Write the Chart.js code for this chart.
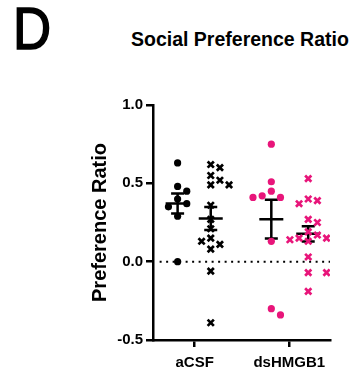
<!DOCTYPE html>
<html>
<head>
<meta charset="utf-8">
<script src="https://cdn.jsdelivr.net/npm/chart.js@4.4.0/dist/chart.umd.min.js"></script>
<style>
  body { margin: 0; background: #fff; }
  #wrap { position: relative; width: 359px; height: 376px; }
  #painel { position: absolute; left: 13px; top: -6px; font: 60px "Liberation Sans", Arial, sans-serif; transform: scaleX(0.88); transform-origin: left top; color: #000; -webkit-text-stroke: 1.6px #000; }
  #titulo { position: absolute; left: 131px; top: 28px; font: bold 19.5px "Liberation Sans", Arial, sans-serif; color: #000; white-space: nowrap; }
  canvas { position: absolute; left: 0; top: 0; }
</style>
</head>
<body>
<div id="wrap">
  <div id="painel">D</div>
  <div id="titulo">Social Preference Ratio</div>
  <canvas id="grafico" width="359" height="376"></canvas>
</div>
<script>
// categorias e valores
const categorias = ['aCSF', 'dsHMGB1'];
const ticksY = [-0.5, 0.0, 0.5, 1.0];

const aCSF_pontos = [0.63, 0.48, 0.45, 0.40, 0.37, 0.35, 0.29, 0.00];
const aCSF_cruzes = [0.62, 0.60, 0.55, 0.52, 0.49, 0.49, 0.36, 0.27, 0.21, 0.15, 0.11, 0.13, 0.08, -0.06, -0.39];
const ds_pontos = [0.75, 0.51, 0.45, 0.41, 0.42, 0.41, 0.13, -0.30, -0.34];
const ds_cruzes = [0.53, 0.40, 0.39, 0.37, 0.27, 0.25, 0.19, 0.17, 0.15, 0.15, 0.14, 0.13, 0.03, -0.07, -0.07, -0.19];

const preto = '#000000';
const rosa = '#e8157a';

// Distribui os pontos lado a lado quando se sobrepõem (tipo "swarm")
function espalhar(valores, centro) {
    const pxX = 93, pxY = 157, diam = 9, passo = 9 / pxX;
    const colocados = [];
    valores.forEach(v => {
        for (let k = 0; k < 20; k++) {
            const desl = (k === 0) ? 0 : Math.ceil(k / 2) * (k % 2 ? 1 : -1) * passo;
            const x = centro + desl;
            const colide = colocados.some(p => Math.hypot((p.x - x) * pxX, (p.y - v) * pxY) < diam);
            if (!colide) { colocados.push({ x: x, y: v }); break; }
        }
    });
    return colocados;
}

function media(arr) { return arr.reduce((a, b) => a + b, 0) / arr.length; }
function epm(arr) {
    const m = media(arr);
    const dp = Math.sqrt(arr.reduce((a, b) => a + (b - m) * (b - m), 0) / (arr.length - 1));
    return dp / Math.sqrt(arr.length);
}

const grupos = [
    { valores: aCSF_pontos, centro: 0.82, cor: preto, estilo: 'circle' },
    { valores: aCSF_cruzes, centro: 1.17, cor: preto, estilo: 'crossRot' },
    { valores: ds_pontos, centro: 1.81, cor: rosa, estilo: 'circle' },
    { valores: ds_cruzes, centro: 2.20, cor: rosa, estilo: 'crossRot' }
];

// Plugin para desenhar média ± EPM atrás dos pontos
const barrasErro = {
    id: 'barrasErro',
    beforeDatasetsDraw(chart) {
        const { ctx, scales: { x, y } } = chart;
        ctx.save();
        ctx.strokeStyle = preto;
        ctx.lineWidth = 2.5;
        grupos.forEach(g => {
            const m = media(g.valores);
            const e = epm(g.valores);
            const cx = x.getPixelForValue(g.centro);
            const ym = y.getPixelForValue(m);
            const ya = y.getPixelForValue(m + e);
            const yb = y.getPixelForValue(m - e);
            ctx.beginPath();
            ctx.moveTo(cx - 12, ym); ctx.lineTo(cx + 12, ym);
            ctx.moveTo(cx, ya); ctx.lineTo(cx, yb);
            ctx.moveTo(cx - 6.5, ya); ctx.lineTo(cx + 6.5, ya);
            ctx.moveTo(cx - 6.5, yb); ctx.lineTo(cx + 6.5, yb);
            ctx.stroke();
        });
        ctx.restore();
    }
};

const datasets = grupos.map(g => ({
    type: 'scatter',
    data: espalhar(g.valores, g.centro),
    pointStyle: g.estilo,
    pointRadius: g.estilo === 'circle' ? 3.6 : 4.4,
    pointBackgroundColor: g.cor,
    pointBorderColor: g.cor,
    pointBorderWidth: g.estilo === 'circle' ? 0 : 2.7,
    order: 1
}));

// linha pontilhada no zero
datasets.push({
    type: 'line',
    data: [{ x: 0.63, y: 0 }, { x: 2.43, y: 0 }],
    borderColor: preto,
    borderWidth: 2,
    borderDash: [2, 4.5],
    pointRadius: 0,
    order: 2
});

const fonte = "'Liberation Sans', Arial, sans-serif";

new Chart(document.getElementById('grafico').getContext('2d'), {
    data: { datasets: datasets },
    options: {
        responsive: false,
        devicePixelRatio: 1,
        animation: false,
        layout: { padding: { left: 88, top: 105, right: 29, bottom: 0 } },
        plugins: { legend: { display: false }, tooltip: { enabled: false } },
        scales: {
            x: {
                type: 'linear',
                min: 0.56,
                max: 2.43,
                afterBuildTicks: (scale) => { scale.ticks = [{ value: 1 }, { value: 2 }]; },
                afterFit: (scale) => { scale.height = 36; },
                ticks: {
                    callback: (v) => categorias[v - 1],
                    color: preto,
                    padding: 7,
                    font: { family: fonte, size: 15, weight: 'bold' }
                },
                grid: { drawOnChartArea: false, drawTicks: true, tickLength: 7, color: preto, lineWidth: 2.5 },
                border: { color: preto, width: 2.5 }
            },
            y: {
                min: -0.5,
                max: 1.0,
                afterBuildTicks: (scale) => { scale.ticks = ticksY.map(v => ({ value: v })); },
                afterFit: (scale) => { scale.width = 65; },
                ticks: {
                    callback: (v) => v.toFixed(1),
                    color: preto,
                    padding: 3,
                    font: { family: fonte, size: 15, weight: 'bold' }
                },
                grid: { drawOnChartArea: false, drawTicks: true, tickLength: 7, color: preto, lineWidth: 2.5 },
                border: { color: preto, width: 2.5 },
                title: {
                    display: true,
                    text: 'Preference Ratio',
                    color: preto,
                    padding: 0,
                    font: { family: fonte, size: 20, weight: 'bold' }
                }
            }
        }
    },
    plugins: [barrasErro]
});
</script>
</body>
</html>
